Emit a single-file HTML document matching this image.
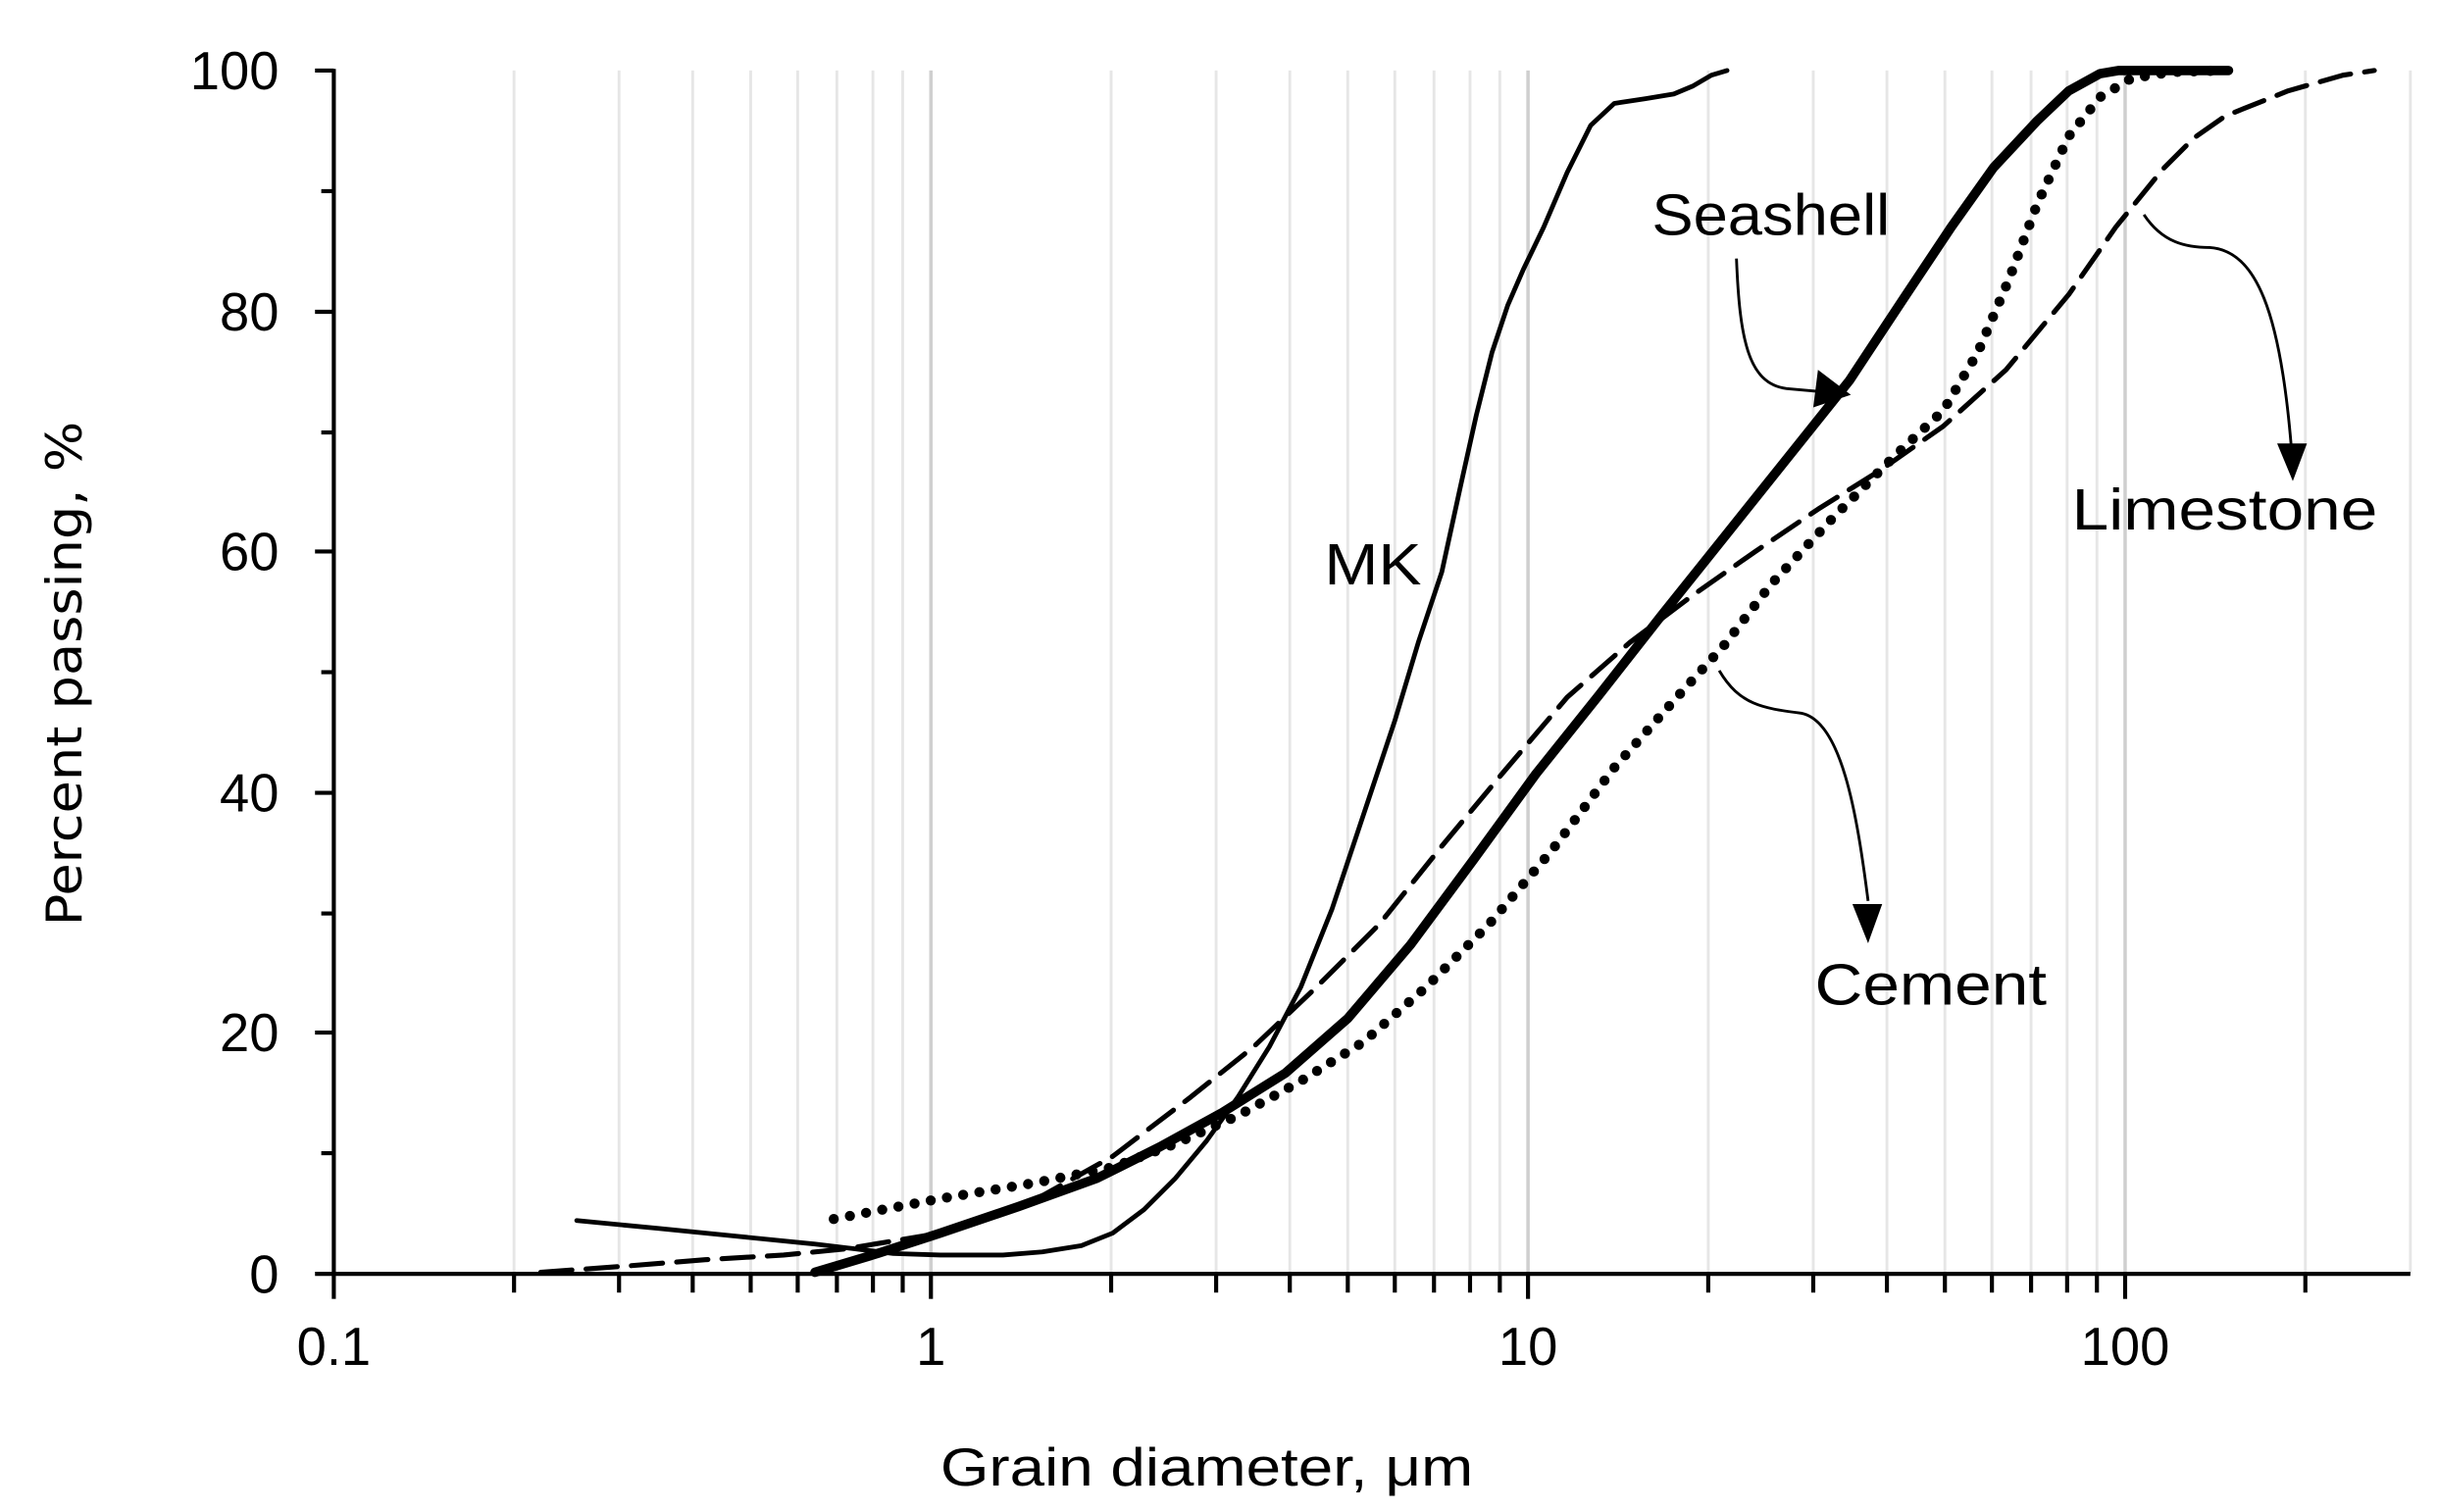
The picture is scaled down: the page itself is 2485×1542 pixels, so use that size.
<!DOCTYPE html>
<html><head><meta charset="utf-8"><style>html,body{margin:0;padding:0;background:#fff}svg{display:block}</style></head>
<body>
<svg width="2485" height="1542" viewBox="0 0 1555 965" preserveAspectRatio="none" xmlns="http://www.w3.org/2000/svg">
<g stroke="#e6e6e6" stroke-width="1.8">
<line x1="328" y1="45" x2="328" y2="813"/><line x1="395" y1="45" x2="395" y2="813"/><line x1="442" y1="45" x2="442" y2="813"/><line x1="479" y1="45" x2="479" y2="813"/><line x1="509" y1="45" x2="509" y2="813"/><line x1="534" y1="45" x2="534" y2="813"/><line x1="557" y1="45" x2="557" y2="813"/><line x1="576" y1="45" x2="576" y2="813"/>
<line x1="709" y1="45" x2="709" y2="813"/><line x1="776" y1="45" x2="776" y2="813"/><line x1="823" y1="45" x2="823" y2="813"/><line x1="860" y1="45" x2="860" y2="813"/><line x1="890" y1="45" x2="890" y2="813"/><line x1="915" y1="45" x2="915" y2="813"/><line x1="938" y1="45" x2="938" y2="813"/><line x1="957" y1="45" x2="957" y2="813"/>
<line x1="1090" y1="45" x2="1090" y2="813"/><line x1="1157" y1="45" x2="1157" y2="813"/><line x1="1204" y1="45" x2="1204" y2="813"/><line x1="1241" y1="45" x2="1241" y2="813"/><line x1="1271" y1="45" x2="1271" y2="813"/><line x1="1296" y1="45" x2="1296" y2="813"/><line x1="1319" y1="45" x2="1319" y2="813"/><line x1="1338" y1="45" x2="1338" y2="813"/>
<line x1="1471" y1="45" x2="1471" y2="813"/><line x1="1538" y1="45" x2="1538" y2="813"/>
</g>
<g stroke="#cfcfcf" stroke-width="2.2"><line x1="594" y1="45" x2="594" y2="813"/><line x1="975" y1="45" x2="975" y2="813"/><line x1="1356" y1="45" x2="1356" y2="813"/></g>
<g stroke="#000" stroke-width="2.6" fill="none">
<line x1="213" y1="44" x2="213" y2="813"/><line x1="201" y1="813" x2="1538" y2="813"/>
<line x1="201" y1="45" x2="213" y2="45"/><line x1="201" y1="199" x2="213" y2="199"/><line x1="201" y1="352" x2="213" y2="352"/><line x1="201" y1="506" x2="213" y2="506"/><line x1="201" y1="659" x2="213" y2="659"/>
<line x1="205" y1="122" x2="213" y2="122"/><line x1="205" y1="276" x2="213" y2="276"/><line x1="205" y1="429" x2="213" y2="429"/><line x1="205" y1="583" x2="213" y2="583"/><line x1="205" y1="736" x2="213" y2="736"/>
<line x1="213" y1="813" x2="213" y2="829"/><line x1="594" y1="813" x2="594" y2="829"/><line x1="975" y1="813" x2="975" y2="829"/><line x1="1356" y1="813" x2="1356" y2="829"/>
<path d="M328 813v12M395 813v12M442 813v12M479 813v12M509 813v12M534 813v12M557 813v12M576 813v12M709 813v12M776 813v12M823 813v12M860 813v12M890 813v12M915 813v12M938 813v12M957 813v12M1090 813v12M1157 813v12M1204 813v12M1241 813v12M1271 813v12M1296 813v12M1319 813v12M1338 813v12M1471 813v12"/>
</g>
<g font-family="Liberation Sans, sans-serif" font-size="34" fill="#000" text-anchor="end">
<text x="178" y="57">100</text><text x="178" y="211">80</text><text x="178" y="364">60</text><text x="178" y="518">40</text><text x="178" y="671">20</text><text x="178" y="825">0</text>
</g>
<g font-family="Liberation Sans, sans-serif" font-size="34" fill="#000" text-anchor="middle">
<text x="213" y="871">0.1</text><text x="594" y="871">1</text><text x="975" y="871">10</text><text x="1356" y="871">100</text>
<text x="770" y="948" textLength="340" lengthAdjust="spacingAndGlyphs">Grain diameter, μm</text>
</g>
<text transform="translate(52,430) rotate(-90)" font-family="DejaVu Sans, sans-serif" font-size="31" text-anchor="middle" textLength="322" lengthAdjust="spacingAndGlyphs">Percent passing, %</text>
<g fill="none" stroke="#000" stroke-linejoin="round" stroke-linecap="round">
<polyline stroke-width="3" points="368,779 420,784 470,789 520,794 545,797 570,800 600,801 640,801 665,799 690,795 710,787 730,772 750,752 770,728 790,700 810,668 830,630 850,580 870,520 890,460 905,410 920,365 932,310 942,265 952,225 962,195 972,172 985,145 1000,110 1015,80 1030,66 1050,63 1068,60 1080,55 1092,48 1102,45"/>
<polyline stroke-width="6" points="520,812 560,800 600,787 650,770 700,752 740,732 780,710 820,685 860,650 900,603 940,549 980,494 1020,444 1060,393 1100,343 1140,293 1180,243 1215,190 1245,145 1272,107 1300,77 1320,58 1340,47 1352,45 1422,45"/>
<polyline stroke-width="6.5" stroke-dasharray="0 10.5" points="532,778 600,765 660,755 710,745 750,730 790,712 830,690 870,665 910,630 950,590 990,543 1030,490 1070,445 1100,412 1130,373 1170,330 1210,290 1240,262 1262,225 1282,178 1300,130 1320,87 1340,62 1360,50 1385,46 1420,45"/>
<polyline stroke-width="3.2" stroke-dasharray="20 9" points="345,812 400,808 450,804 500,801 540,797 600,787 660,766 710,738 760,700 800,668 840,630 880,590 920,540 960,492 1000,445 1040,410 1080,380 1120,352 1160,325 1200,300 1240,272 1280,236 1320,188 1350,145 1380,108 1400,88 1420,74 1460,58 1495,48 1515,45"/>
</g>
<g font-family="Liberation Sans, sans-serif" font-size="37" fill="#000">
<text x="845" y="373" textLength="62" lengthAdjust="spacingAndGlyphs">MK</text>
<text x="1054" y="150" textLength="152" lengthAdjust="spacingAndGlyphs">Seashell</text>
<text x="1322" y="338" textLength="195" lengthAdjust="spacingAndGlyphs">Limestone</text>
<text x="1158" y="641" textLength="148" lengthAdjust="spacingAndGlyphs">Cement</text>
</g>
<g fill="none" stroke="#000" stroke-width="1.8">
<path d="M1108,165 C1110,215 1115,245 1140,248 L1162,250"/>
<path d="M1368,137 C1380,155 1395,158 1410,158 C1440,160 1455,200 1462,285"/>
<path d="M1097,428 C1110,450 1125,452 1148,455 C1175,458 1185,520 1192,575"/>
</g>
<g fill="#000">
<polygon points="1160,236 1181,252 1157,260"/>
<polygon points="1453,283 1472,283 1463,307"/>
<polygon points="1182,577 1201,577 1192,602"/>
</g>
</svg>
</body></html>
